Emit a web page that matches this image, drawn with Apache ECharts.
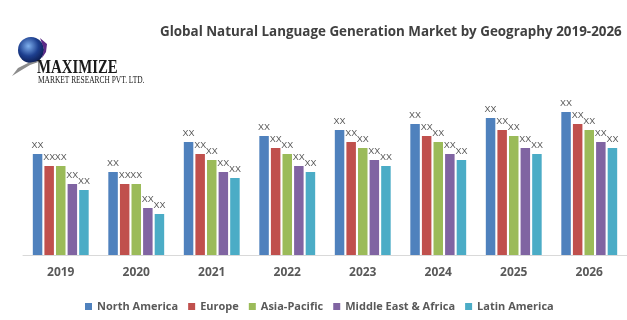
<!DOCTYPE html>
<html>
<head>
<meta charset="utf-8">
<script src="https://cdn.jsdelivr.net/npm/echarts@6/dist/echarts.min.js"></script>
<style>
  html, body { margin: 0; padding: 0; background: #fff; }
  #chart { width: 627px; height: 320px; }
</style>
</head>
<body>
<div id="chart"></div>
<script>
// 年份
const years = ['2019', '2020', '2021', '2022', '2023', '2024', '2025', '2026'];
// 各地区数值（从图中估算，单位无意义，标签显示为 XX）
const northAmerica = [101, 83, 113, 119, 125, 131, 137, 143];
const europe = [89, 71, 101, 107, 113, 119, 125, 131];
const asiaPacific = [89, 71, 95, 101, 107, 113, 119, 125];
const middleEastAfrica = [71, 47, 83, 89, 95, 101, 107, 113];
const latinAmerica = [65, 41, 77, 83, 89, 95, 101, 107];
const seriesNames = ['North America', 'Europe', 'Asia-Pacific', 'Middle East & Africa', 'Latin America'];
const colors = ['#4f81bd', '#c0504d', '#9bbb59', '#8064a2', '#4bacc6'];

const chart = echarts.init(document.getElementById('chart'));

const values = [northAmerica, europe, asiaPacific, middleEastAfrica, latinAmerica];
const series = values.map((data, i) => ({
    name: seriesNames[i],
    type: 'bar',
    data: data,
    barWidth: 9.5,
    barGap: '22%',
    itemStyle: { color: colors[i] },
    label: {
        show: true,
        position: 'top',
        distance: 4,
        formatter: 'XX',
        color: '#595959',
        fontSize: 9,
        fontFamily: 'Liberation Sans'
    }
}));

const option = {
    backgroundColor: '#fff',
    animation: false,
    textStyle: { fontFamily: 'Liberation Sans' },
    grid: { left: 23, width: 607, top: 60, bottom: 65 },
    xAxis: {
        type: 'category',
        data: years,
        axisLine: { lineStyle: { color: '#d9d9d9', width: 1 } },
        axisTick: { show: false },
        axisLabel: { color: '#595959', fontSize: 12, fontWeight: 'bold', margin: 12, fontFamily: 'Open Sans' }
    },
    yAxis: {
        type: 'value',
        min: 0,
        max: 195,
        show: false,
        splitLine: { show: false }
    },
    legend: {
        data: seriesNames,
        bottom: 3,
        left: 80,
        itemWidth: 7,
        itemHeight: 7,
        itemGap: 10,
        icon: 'rect',
        textStyle: { color: '#595959', fontSize: 11, fontWeight: 'bold', fontFamily: 'Open Sans' }
    },
    series: series,
    graphic: [
        {
            type: 'text', left: 160, top: 26,
            style: { text: 'Global Natural Language Generation Market by Geography 2019-2026', fill: '#404040', fontSize: 13.4, fontWeight: 'bold', fontFamily: 'Open Sans' }
        },
        // logo：地球
        {
            type: 'circle', shape: { cx: 31, cy: 50, r: 13 },
            style: {
                fill: new echarts.graphic.RadialGradient(0.4, 0.35, 0.7, [
                    { offset: 0, color: '#7fb0ee' },
                    { offset: 0.55, color: '#1d3f8f' },
                    { offset: 1, color: '#0b1a4d' }
                ])
            }
        },
        {
            type: 'polygon',
            shape: { points: [[12, 76], [18, 68], [28, 63], [44, 60], [30, 65], [20, 71]] },
            style: { fill: '#8c8c8c' }
        },
        {
            type: 'polygon',
            shape: { points: [[40, 38], [47, 44], [46, 52], [42, 58], [44, 49]] },
            style: { fill: '#5b2a86' }
        },
        {
            type: 'text', x: 37, y: 59, scaleX: 0.78, originX: 0, originY: 0,
            style: { text: 'MAXIMIZE', fill: '#1a1a1a', fontSize: 19, fontWeight: 'bold', fontFamily: 'Liberation Serif' }
        },
        {
            type: 'text', x: 38, y: 75, scaleX: 0.78, originX: 0, originY: 0,
            style: { text: 'MARKET RESEARCH PVT. LTD.', fill: '#1a1a1a', fontSize: 9.5, fontFamily: 'Liberation Serif' }
        }
    ]
};

chart.setOption(option);
window.addEventListener('resize', () => chart.resize());
</script>
</body>
</html>
